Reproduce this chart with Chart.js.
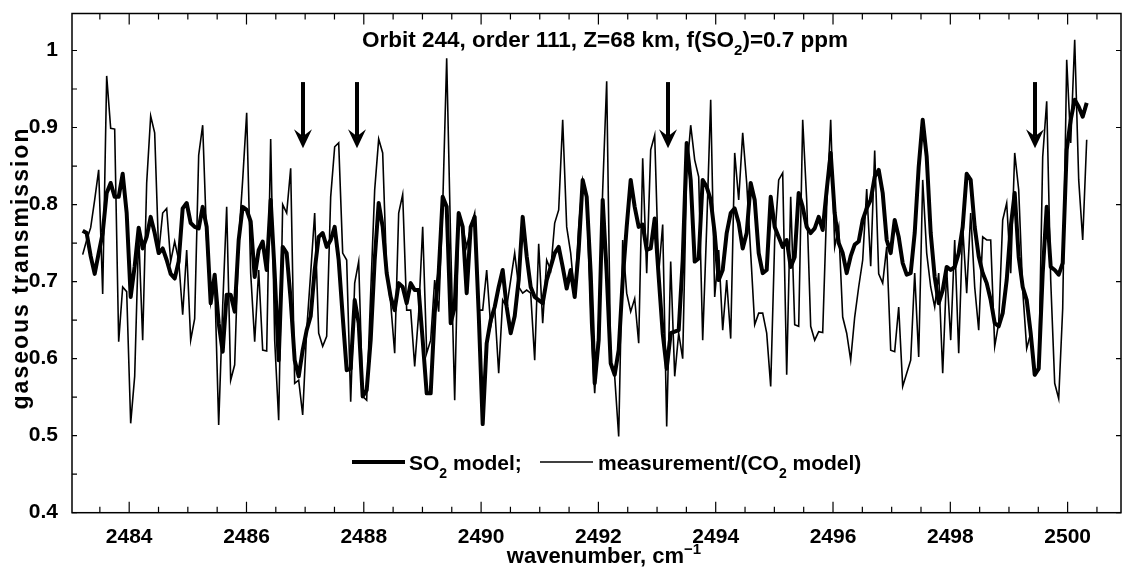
<!DOCTYPE html>
<html>
<head>
<meta charset="utf-8">
<script src="https://cdn.jsdelivr.net/npm/chart.js@4.4.1/dist/chart.umd.min.js"></script>
<style>
  html, body { margin: 0; padding: 0; background: #fff; }
  #wrap { width: 1122px; height: 575px; }
</style>
</head>
<body>
<div id="wrap"><canvas id="so2Chart" width="1122" height="575"></canvas></div>
<script>
// spectral grid (cm-1): first pixel and pixel spacing
const wnStart = 2483.207;
const wnStep = 0.0682;

// measurement / (CO2 model) - thin line
const measurement = [
  0.735, 0.754, 0.77, 0.806, 0.845, 0.684, 0.967, 0.899, 0.898, 0.622, 0.693, 0.687, 0.516, 0.577, 0.763, 0.624, 0.828, 0.915, 0.893, 0.737, 0.789, 0.795, 0.726, 0.752,
  0.728, 0.657, 0.741, 0.624, 0.652, 0.864, 0.903, 0.754, 0.672, 0.702, 0.514, 0.668, 0.797, 0.572, 0.592, 0.754, 0.832, 0.919, 0.711, 0.622, 0.715, 0.611, 0.61, 0.885, 0.624, 0.52,
  0.8, 0.789, 0.847, 0.568, 0.572, 0.527, 0.637, 0.711, 0.789, 0.633, 0.616, 0.629, 0.81, 0.875, 0.88, 0.737, 0.728, 0.544, 0.698, 0.726, 0.551, 0.546, 0.685, 0.819, 0.885, 0.867,
  0.711, 0.672, 0.607, 0.789, 0.813, 0.663, 0.663, 0.59, 0.659, 0.771, 0.607, 0.624, 0.702, 0.661, 0.797, 0.99, 0.75, 0.546, 0.78, 0.771, 0.745, 0.771, 0.789, 0.663, 0.663, 0.715,
  0.642, 0.667, 0.581, 0.676, 0.667, 0.702, 0.737, 0.693, 0.685, 0.689, 0.685, 0.598, 0.749, 0.646, 0.728, 0.715, 0.776, 0.793, 0.91, 0.771, 0.737, 0.68, 0.771, 0.832, 0.81, 0.646, 0.555,
  0.646, 0.819, 0.96, 0.594, 0.577, 0.499, 0.754, 0.685, 0.661, 0.678, 0.62, 0.86, 0.711, 0.871, 0.89, 0.711, 0.774, 0.512, 0.726, 0.577, 0.633, 0.6, 0.841, 0.903, 0.858, 0.836,
  0.624, 0.771, 0.936, 0.68, 0.741, 0.637, 0.702, 0.626, 0.867, 0.806, 0.893, 0.828, 0.737, 0.644, 0.659, 0.659, 0.633, 0.564, 0.754, 0.832, 0.841, 0.579, 0.81, 0.644, 0.642, 0.91,
  0.806, 0.642, 0.624, 0.635, 0.634, 0.797, 0.91, 0.745, 0.771, 0.654, 0.633, 0.598, 0.654, 0.693, 0.728, 0.82, 0.72, 0.87, 0.71, 0.698, 0.745, 0.611, 0.609, 0.667, 0.564, 0.581,
  0.598, 0.711, 0.602, 0.832, 0.737, 0.693, 0.667, 0.711, 0.581, 0.715, 0.624, 0.754, 0.607, 0.771, 0.685, 0.789, 0.693, 0.637, 0.758, 0.754, 0.754, 0.616, 0.646, 0.78, 0.802, 0.711, 0.867,
  0.819, 0.689, 0.613, 0.633, 0.579, 0.585, 0.862, 0.934, 0.702, 0.568, 0.548, 0.665, 0.988, 0.88, 1.014, 0.832, 0.754, 0.884
];

// SO2 model - thick line
const so2Model = [
  0.766, 0.763, 0.733, 0.71, 0.737, 0.763, 0.815, 0.828, 0.81, 0.81, 0.84, 0.789, 0.68, 0.72, 0.77, 0.743, 0.758, 0.784, 0.763, 0.737, 0.743, 0.728, 0.71, 0.704,
  0.726, 0.795, 0.802, 0.776, 0.771, 0.769, 0.797, 0.771, 0.672, 0.709, 0.646, 0.609, 0.683, 0.683, 0.661, 0.754, 0.797, 0.793, 0.778, 0.706, 0.741, 0.752, 0.715, 0.806, 0.711, 0.598,
  0.745, 0.737, 0.676, 0.598, 0.577, 0.611, 0.637, 0.655, 0.715, 0.758, 0.763, 0.745, 0.754, 0.771, 0.728, 0.655, 0.585, 0.587, 0.676, 0.646, 0.551, 0.559, 0.624, 0.728, 0.802, 0.771,
  0.711, 0.68, 0.663, 0.698, 0.693, 0.672, 0.698, 0.689, 0.689, 0.624, 0.555, 0.555, 0.659, 0.711, 0.81, 0.797, 0.646, 0.667, 0.789, 0.771, 0.685, 0.771, 0.784, 0.659, 0.515, 0.62,
  0.65, 0.667, 0.693, 0.715, 0.667, 0.633, 0.655, 0.702, 0.784, 0.733, 0.693, 0.68, 0.676, 0.672, 0.702, 0.719, 0.737, 0.745, 0.719, 0.691, 0.715, 0.68, 0.741, 0.832, 0.81, 0.711, 0.568,
  0.624, 0.806, 0.711, 0.594, 0.579, 0.611, 0.702, 0.771, 0.832, 0.797, 0.771, 0.774, 0.741, 0.743, 0.782, 0.706, 0.633, 0.587, 0.633, 0.635, 0.637, 0.728, 0.88, 0.832, 0.726, 0.73,
  0.832, 0.823, 0.806, 0.763, 0.702, 0.715, 0.763, 0.789, 0.795, 0.776, 0.743, 0.763, 0.828, 0.806, 0.737, 0.711, 0.715, 0.81, 0.771, 0.758, 0.745, 0.754, 0.719, 0.732, 0.815, 0.797,
  0.771, 0.763, 0.769, 0.784, 0.767, 0.819, 0.867, 0.789, 0.75, 0.737, 0.711, 0.733, 0.748, 0.752, 0.78, 0.795, 0.806, 0.836, 0.845, 0.815, 0.754, 0.737, 0.78, 0.758, 0.724, 0.709,
  0.711, 0.763, 0.849, 0.91, 0.862, 0.763, 0.706, 0.672, 0.689, 0.719, 0.715, 0.719, 0.737, 0.771, 0.84, 0.832, 0.771, 0.733, 0.711, 0.698, 0.676, 0.646, 0.642, 0.659, 0.702, 0.771, 0.815,
  0.732, 0.693, 0.676, 0.633, 0.579, 0.587, 0.711, 0.797, 0.719, 0.715, 0.709, 0.724, 0.871, 0.91, 0.936, 0.927, 0.914, 0.932
];

// arrows marking SO2 lines
const arrowWn = [2486.963, 2487.884, 2493.187, 2499.444];
const arrowTop = 0.959;
const arrowTip = 0.873;

const xTickLabels = [2484, 2486, 2488, 2490, 2492, 2494, 2496, 2498, 2500];
const yTickLabels = [0.4, 0.5, 0.6, 0.7, 0.8, 0.9, 1];

const wavenumbers = measurement.map((_, i) => wnStart + i * wnStep);
const FONT = '"Liberation Sans", Arial, Helvetica, sans-serif';

// draws text with sub/superscripts, left aligned, returns end x
function drawParts(ctx, parts, x, y, size) {
    parts.forEach(p => {
        if (p.sub || p.sup) {
            ctx.font = 'bold ' + Math.round(size * 0.68) + 'px ' + FONT;
            ctx.fillText(p.t, x, y + (p.sub ? size * 0.36 : -size * 0.4));
        } else {
            ctx.font = 'bold ' + size + 'px ' + FONT;
            ctx.fillText(p.t, x, y);
        }
        x += ctx.measureText(p.t).width;
    });
    return x;
}
function partsWidth(ctx, parts, size) {
    let w = 0;
    parts.forEach(p => {
        ctx.font = 'bold ' + ((p.sub || p.sup) ? Math.round(size * 0.68) : size) + 'px ' + FONT;
        w += ctx.measureText(p.t).width;
    });
    return w;
}

const decorPlugin = {
    id: 'decor',
    afterDraw(chart) {
        const { ctx, chartArea: a, scales: { x, y } } = chart;
        ctx.save();
        ctx.strokeStyle = '#000';
        ctx.fillStyle = '#000';

        // box
        ctx.lineWidth = 1.5;
        ctx.strokeRect(a.left, a.top, a.right - a.left, a.bottom - a.top);

        // inward ticks
        ctx.lineWidth = 1.2;
        ctx.beginPath();
        for (let k = 4967; k <= 5001; k++) {
            const v = k / 2;
            const px = x.getPixelForValue(v);
            const len = xTickLabels.includes(v) ? 11 : 6;
            ctx.moveTo(px, a.bottom); ctx.lineTo(px, a.bottom - len);
            ctx.moveTo(px, a.top); ctx.lineTo(px, a.top + len);
        }
        for (let k = 8; k <= 20; k++) {
            const py = y.getPixelForValue(k * 0.05);
            ctx.moveTo(a.left, py); ctx.lineTo(a.left + 5, py);
            if (k % 2 === 0) { ctx.moveTo(a.right, py); ctx.lineTo(a.right - 5, py); }
        }
        ctx.stroke();

        // arrows
        arrowWn.forEach(w => {
            const px = x.getPixelForValue(w);
            const top = y.getPixelForValue(arrowTop);
            const tip = y.getPixelForValue(arrowTip);
            ctx.lineWidth = 4;
            ctx.beginPath();
            ctx.moveTo(px, top); ctx.lineTo(px, tip - 12);
            ctx.stroke();
            ctx.beginPath();
            ctx.moveTo(px, tip);
            ctx.lineTo(px - 9, tip - 19);
            ctx.lineTo(px, tip - 12);
            ctx.lineTo(px + 9, tip - 19);
            ctx.closePath();
            ctx.fill();
        });

        ctx.textAlign = 'left';
        ctx.textBaseline = 'alphabetic';

        // title
        drawParts(ctx, [{ t: 'Orbit 244, order 111, Z=68 km, f(SO' }, { t: '2', sub: true }, { t: ')=0.7 ppm' }], 362, 47, 22.5);

        // legend
        ctx.lineWidth = 4;
        ctx.beginPath(); ctx.moveTo(352, 462); ctx.lineTo(405, 462); ctx.stroke();
        drawParts(ctx, [{ t: 'SO' }, { t: '2', sub: true }, { t: ' model;' }], 409, 470, 21);
        ctx.lineWidth = 1.5;
        ctx.beginPath(); ctx.moveTo(540, 462); ctx.lineTo(593, 462); ctx.stroke();
        drawParts(ctx, [{ t: 'measurement/(CO' }, { t: '2', sub: true }, { t: ' model)' }], 598, 470, 21);

        // x axis title
        const xt = [{ t: 'wavenumber, cm' }, { t: '\u22121', sup: true }];
        const xw = partsWidth(ctx, xt, 22);
        drawParts(ctx, xt, 604 - xw / 2, 563, 22);

        // y axis title
        ctx.translate(22, 268);
        ctx.rotate(-Math.PI / 2);
        ctx.textAlign = 'center';
        ctx.textBaseline = 'middle';
        ctx.font = 'bold 23px ' + FONT;
        ctx.letterSpacing = '2px';
        ctx.fillText('gaseous transmission', 0, 0);
        ctx.restore();
    }
};

const ctx = document.getElementById('so2Chart').getContext('2d');
const so2Chart = new Chart(ctx, {
    type: 'line',
    data: {
        datasets: [{
            label: 'SO2 model',
            data: so2Model.map((v, i) => ({ x: wavenumbers[i], y: v })),
            borderColor: '#000',
            borderWidth: 4,
            pointRadius: 0,
            tension: 0,
            borderJoinStyle: 'round'
        }, {
            label: 'measurement/(CO2 model)',
            data: measurement.map((v, i) => ({ x: wavenumbers[i], y: v })),
            borderColor: '#000',
            borderWidth: 1.6,
            pointRadius: 0,
            tension: 0
        }]
    },
    options: {
        responsive: false,
        animation: false,
        layout: { padding: { top: 13.5, right: 1, left: 0, bottom: 0 } },
        scales: {
            x: {
                type: 'linear',
                min: 2483.025,
                max: 2500.91,
                afterFit: s => { s.height = 62.3; s.paddingLeft = 0; s.paddingRight = 0; },
                grid: { display: false, drawTicks: false },
                border: { display: false },
                ticks: {
                    stepSize: 0.5,
                    includeBounds: false,
                    autoSkip: false,
                    maxRotation: 0,
                    padding: 12,
                    color: '#000',
                    font: { family: FONT, size: 21, weight: 'bold' },
                    callback: v => xTickLabels.includes(v) ? String(v) : ''
                }
            },
            y: {
                min: 0.4,
                max: 1.048,
                afterFit: s => { s.width = 72; s.paddingTop = 0; s.paddingBottom = 0; },
                grid: { display: false, drawTicks: false },
                border: { display: false },
                ticks: {
                    stepSize: 0.1,
                    includeBounds: false,
                    padding: 14,
                    color: '#000',
                    font: { family: FONT, size: 21, weight: 'bold' },
                    callback: v => {
                        const r = Math.round(v * 10) / 10;
                        return (Math.abs(v - r) < 1e-6 && yTickLabels.includes(r)) ? String(r) : '';
                    }
                }
            }
        },
        plugins: {
            legend: { display: false },
            tooltip: { enabled: false }
        }
    },
    plugins: [decorPlugin]
});
</script>
</body>
</html>
